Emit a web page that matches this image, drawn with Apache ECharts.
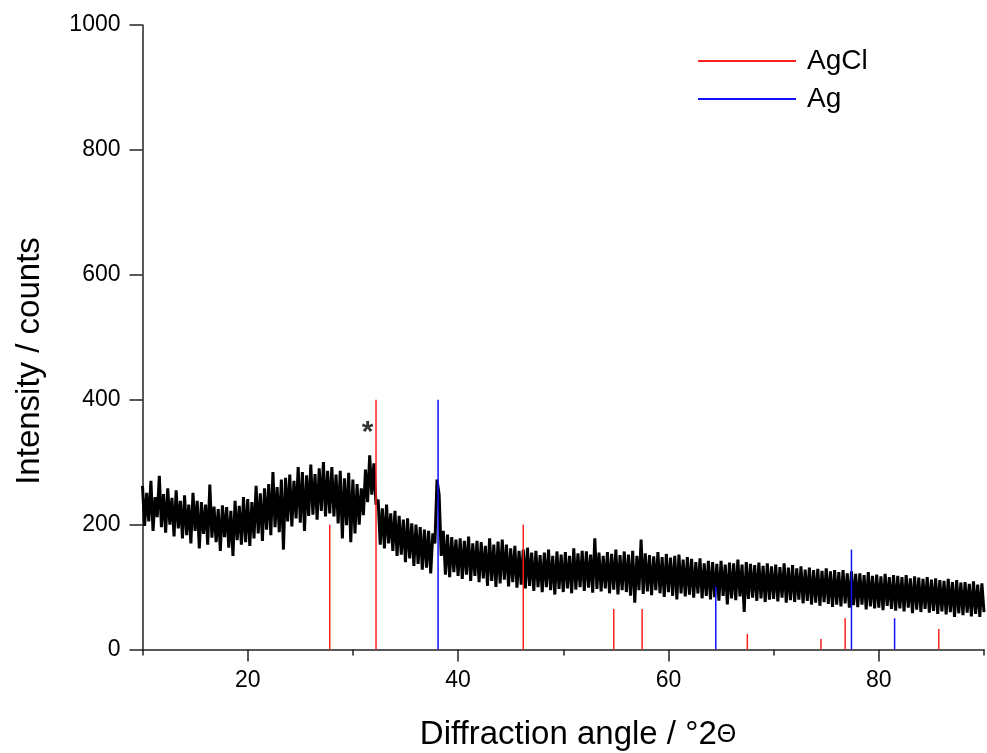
<!DOCTYPE html>
<html>
<head>
<meta charset="utf-8">
<script src="https://cdn.jsdelivr.net/npm/echarts@6/dist/echarts.min.js"></script>
<style>
  html, body { margin: 0; padding: 0; background: #fff; }
  #xrd { width: 987px; height: 753px; }
</style>
</head>
<body>
<div id="xrd"></div>
<script>
// measured pattern, 0.2 deg steps starting at 10 deg
const ANGLE_START = 10
const ANGLE_STEP = 0.2
const counts10to30 = [
  262, 198, 251, 205, 270, 190, 244, 212, 278, 196,
  249, 187, 258, 200, 243, 181, 255, 194, 238, 178,
  247, 183, 232, 170, 251, 190, 238, 162, 236, 185,
  232, 168, 264, 179, 229, 172, 225, 158, 231, 180,
  228, 163, 222, 150, 238, 175, 230, 168, 244, 172,
  241, 166, 236, 178, 262, 186, 250, 174, 258, 192,
  265, 183, 284, 196, 260, 188, 272, 160, 275, 205,
  280, 197, 270, 210, 292, 203, 284, 190, 279, 214,
  296, 216, 281, 208, 290, 222, 300, 213, 286, 218,
  292, 213, 280, 202, 286, 178, 274, 199, 283, 172
]
const counts30to50 = [
  272, 186, 265, 200, 258, 215, 288, 236, 311, 248,
  298, 232, 240, 168, 226, 162, 232, 170, 218, 158,
  222, 150, 214, 152, 208, 140, 210, 146, 202, 134,
  200, 137, 196, 128, 192, 131, 190, 122, 186, 170,
  272, 248, 150, 190, 120, 184, 116, 180, 124, 176,
  118, 178, 113, 174, 120, 181, 110, 170, 118, 174,
  108, 172, 114, 166, 102, 178, 110, 168, 100, 173,
  106, 176, 112, 168, 101, 162, 108, 166, 99, 158,
  104, 160, 98, 163, 102, 155, 94, 158, 100, 151,
  92, 155, 100, 160, 95, 150, 88, 157, 97, 152
]
const counts50to70 = [
  92, 156, 98, 150, 90, 162, 96, 154, 100, 158,
  94, 157, 99, 152, 91, 178, 97, 155, 93, 150,
  98, 156, 90, 153, 96, 160, 88, 151, 95, 157,
  92, 152, 86, 158, 75, 150, 95, 176, 89, 154,
  93, 151, 87, 149, 95, 156, 90, 148, 84, 153,
  92, 147, 86, 150, 80, 152, 90, 144, 85, 148,
  88, 145, 83, 140, 90, 146, 82, 138, 86, 142,
  80, 140, 84, 137, 78, 142, 86, 136, 72, 139,
  82, 138, 79, 144, 85, 136, 60, 140, 81, 137,
  83, 135, 78, 139, 82, 134, 76, 138, 80, 133
]
const counts70to90 = [
  81, 136, 77, 132, 83, 138, 75, 131, 79, 135,
  76, 130, 80, 133, 74, 128, 78, 131, 72, 127,
  75, 129, 70, 126, 76, 130, 73, 125, 68, 127,
  72, 124, 69, 127, 74, 122, 67, 125, 71, 121,
  68, 122, 72, 119, 64, 124, 69, 118, 66, 120,
  67, 117, 63, 121, 70, 116, 65, 119, 62, 118,
  66, 116, 61, 119, 67, 114, 58, 117, 64, 115,
  60, 113, 65, 116, 59, 112, 62, 114, 57, 111,
  61, 110, 56, 113, 60, 108, 52, 111, 58, 107,
  55, 108, 59, 105, 53, 109, 57, 104, 52, 106,
  60
]

// reference lines
const agclAngles = [27.8, 32.2, 46.2, 54.8, 57.5, 67.5, 74.5, 76.8, 85.7]
const agclHeights = [200, 400, 200, 65, 65, 25, 17, 50, 33]
const agAngles = [38.1, 64.5, 77.4, 81.5]
const agHeights = [400, 100, 160, 50]

const xTicks = [20, 40, 60, 80]
const starPos = [31.3, 357]

const FONT = 'Liberation Sans, Arial, sans-serif'

let counts = counts10to30.concat(counts30to50, counts50to70, counts70to90)
let pattern = counts.map((v, i) => [+(ANGLE_START + i * ANGLE_STEP).toFixed(1), v])
let agclData = agclAngles.map((a, i) => [a, agclHeights[i]])
let agData = agAngles.map((a, i) => [a, agHeights[i]])

let myChart = echarts.init(document.getElementById('xrd'))
myChart.setOption({
  animation: false,
  backgroundColor: '#fff',
  grid: {
    left: 142.5,
    right: -3,
    top: 25,
    bottom: 103.5
  },
  legend: {
    data: ['AgCl', 'Ag'],
    orient: 'vertical',
    left: 693,
    top: 42,
    icon: 'rect',
    itemWidth: 98,
    itemHeight: 2,
    itemGap: 10,
    textStyle: {
      fontFamily: FONT,
      fontSize: 28,
      color: '#000',
      padding: [0, 0, 0, 6]
    }
  },
  xAxis: [
    {
      type: 'value',
      min: 10,
      max: 90,
      interval: 10,
      splitLine: { show: false },
      axisLine: { lineStyle: { color: '#222', width: 1.5 } },
      axisTick: { length: 6, lineStyle: { color: '#222', width: 1.5 } },
      axisLabel: {
        margin: 20,
        fontFamily: FONT,
        fontSize: 23,
        color: '#000',
        formatter: v => (xTicks.indexOf(v) >= 0 ? String(v) : '')
      }
    },
    {
      type: 'value',
      position: 'bottom',
      min: 10,
      max: 90,
      interval: 10,
      splitLine: { show: false },
      axisLine: { show: false },
      axisTick: { length: 12, customValues: xTicks, lineStyle: { color: '#222', width: 1.5 } },
      axisLabel: { show: false }
    }
  ],
  yAxis: {
    type: 'value',
    min: 0,
    max: 1000,
    interval: 200,
    splitLine: { show: false },
    axisLine: { show: true, lineStyle: { color: '#222', width: 1.5 } },
    axisTick: { show: true, length: 13, lineStyle: { color: '#222', width: 1.5 } },
    axisLabel: {
      margin: 22,
      fontFamily: FONT,
      fontSize: 23,
      color: '#000',
      formatter: v => String(v)
    }
  },
  series: [
    {
      name: 'pattern',
      type: 'line',
      data: pattern,
      showSymbol: false,
      z: 2,
      lineStyle: { color: '#000', width: 3, join: 'miter', miterLimit: 2 }
    },
    {
      name: 'AgCl',
      type: 'bar',
      data: agclData,
      barWidth: 1.5,
      barGap: '-100%',
      itemStyle: { color: '#ff2020' },
      z: 3
    },
    {
      name: 'Ag',
      type: 'bar',
      data: agData,
      barWidth: 1.5,
      barGap: '-100%',
      itemStyle: { color: '#1010ff' },
      z: 3
    },
    {
      name: 'mark',
      type: 'scatter',
      data: [starPos],
      symbolSize: 0,
      label: {
        show: true,
        position: 'inside',
        formatter: '*',
        fontFamily: FONT,
        fontSize: 30,
        fontWeight: 'bold',
        color: '#000',
        offset: [1, 6]
      }
    }
  ],
  graphic: [
    {
      type: 'text',
      x: 578,
      y: 735,
      style: {
        text: 'Diffraction angle / °2{t|Θ}',
        fontFamily: FONT,
        fontSize: 33,
        fill: '#000',
        align: 'center',
        verticalAlign: 'middle',
        rich: { t: { fontSize: 25, fontFamily: FONT } }
      }
    },
    {
      type: 'text',
      x: 30,
      y: 361,
      rotation: Math.PI / 2,
      style: {
        text: 'Intensity / counts',
        fontFamily: FONT,
        fontSize: 33,
        fill: '#000',
        align: 'center',
        verticalAlign: 'middle'
      }
    }
  ]
})
</script>
</body>
</html>
